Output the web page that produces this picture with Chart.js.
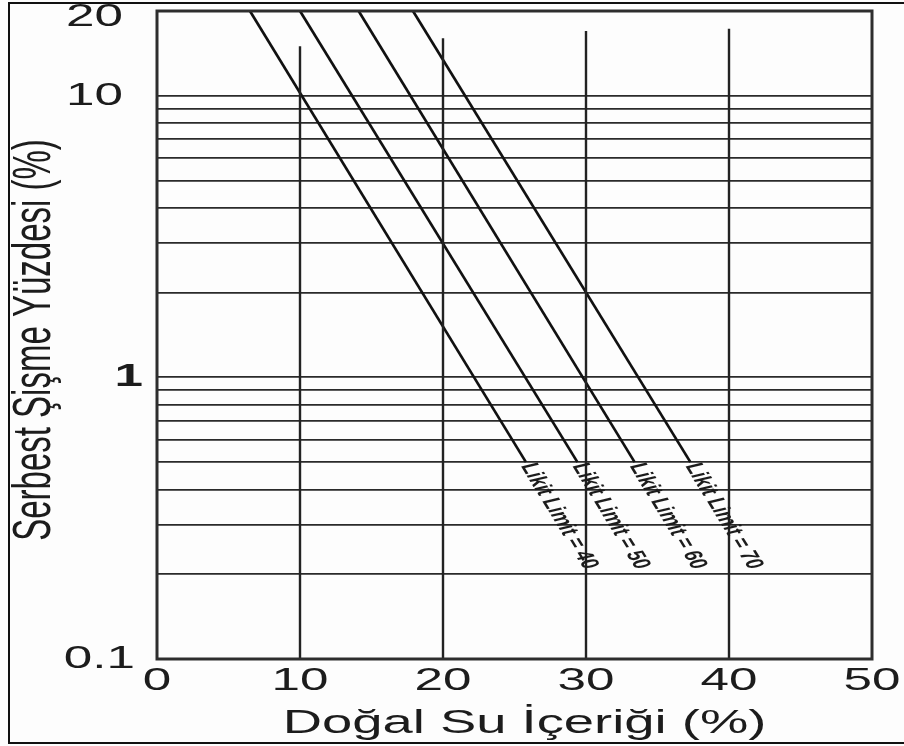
<!DOCTYPE html>
<html>
<head>
<meta charset="utf-8">
<script src="https://cdn.jsdelivr.net/npm/chart.js@4.4.1/dist/chart.umd.min.js"></script>
<style>
  html, body { margin: 0; padding: 0; background: #fdfdfd; }
  #wrap { width: 904px; height: 746px; }
</style>
</head>
<body>
<div id="wrap"><canvas id="swell"></canvas></div>
<script>
// liquid limit lines: free swell (%) against natural water content (%)
var liquidLimits = [40, 50, 60, 70];
var lineStartX = [6.5, 10.0, 14.1, 17.9];
var lineStartY = [20, 20, 20, 20];
var lineEndX = [25.8, 29.4, 33.4, 37.3];
var lineEndY = [0.5, 0.5, 0.5, 0.5];

// vertical rules at the decade marks of water content, stopping short of the top
var ruleX = [10, 20, 30, 40];
var ruleTop = [15, 16, 17, 17.3];

var xTicks = [0, 10, 20, 30, 40, 50];
var yLabels = [0.1, 1, 10, 20];
var yGrid = [0.2, 0.3, 0.4, 0.5, 0.6, 0.7, 0.8, 0.9, 1, 2, 3, 4, 5, 6, 7, 8, 9, 10];

var xTitle = 'Doğal Su İçeriği (%)';
var yTitle = 'Serbest Şişme Yüzdesi (%)';

var FONT = "'Liberation Sans', Arial, sans-serif";
var INK = '#1c1c1c';
var STRETCH = 1.6; // glyphs are drawn wide, like the scanned sheet

// right edge of each y label, in px from the left of the canvas
var yLabelRight = { '0.1': 135, '1': 143, '10': 123, '20': 123 };

function wideText(ctx, text, x, y, o) {
  ctx.save();
  ctx.translate(x, y);
  ctx.scale(STRETCH, 1);
  if (o.angle) ctx.rotate(o.angle);
  ctx.font = o.font;
  ctx.fillStyle = INK;
  ctx.textAlign = o.align || 'center';
  ctx.textBaseline = o.baseline || 'middle';
  ctx.fillText(text, o.dx || 0, 0);
  ctx.restore();
}

var datasets = [];
ruleX.forEach(function (x, i) {
  datasets.push({
    data: [{ x: x, y: 0.1 }, { x: x, y: ruleTop[i] }],
    borderColor: '#222', borderWidth: 2.4, pointRadius: 0, showLine: true
  });
});
liquidLimits.forEach(function (ll, i) {
  datasets.push({
    label: 'Likit Limit = ' + ll,
    data: [{ x: lineStartX[i], y: lineStartY[i] }, { x: lineEndX[i], y: lineEndY[i] }],
    borderColor: '#111', borderWidth: 2.7, pointRadius: 0, showLine: true
  });
});

var sheet = {
  id: 'sheet',
  beforeDraw: function (chart) {
    var ctx = chart.ctx;
    ctx.save();
    ctx.fillStyle = '#fdfdfd';
    ctx.fillRect(0, 0, chart.width, chart.height);
    ctx.restore();
  },
  afterDraw: function (chart) {
    var ctx = chart.ctx, a = chart.chartArea;
    var xs = chart.scales.x, ys = chart.scales.y;
    ctx.save();
    // outer frame of the figure
    ctx.strokeStyle = '#111';
    ctx.lineWidth = 2;
    ctx.strokeRect(9, 3, chart.width + 10, 740);
    // plot frame
    ctx.strokeStyle = '#2e2e2e';
    ctx.lineWidth = 3;
    ctx.strokeRect(a.left, a.top, a.right - a.left, a.bottom - a.top);
    ctx.restore();

    // axis numbers
    xTicks.forEach(function (v) {
      wideText(ctx, String(v), xs.getPixelForValue(v), a.bottom + 22, { font: '32px ' + FONT });
    });
    yLabels.forEach(function (v) {
      var py = Math.max(ys.getPixelForValue(v), 17);
      wideText(ctx, String(v), yLabelRight[String(v)], py, {
        font: (v === 1 ? 'bold ' : '') + '32px ' + FONT, align: 'right'
      });
    });

    // axis titles
    wideText(ctx, xTitle, (a.left + a.right) / 2 + 10, 733, {
      font: '34px ' + FONT, baseline: 'alphabetic'
    });
    wideText(ctx, yTitle, 50, 340, {
      font: '33px ' + FONT, baseline: 'alphabetic', angle: -Math.PI / 2
    });

    // labels continuing each liquid limit line
    liquidLimits.forEach(function (ll, i) {
      var x0 = xs.getPixelForValue(lineStartX[i]), y0 = ys.getPixelForValue(lineStartY[i]);
      var x1 = xs.getPixelForValue(lineEndX[i]), y1 = ys.getPixelForValue(lineEndY[i]);
      var ang = Math.atan2(y1 - y0, (x1 - x0) / STRETCH);
      wideText(ctx, 'Likit Limit = ' + ll, x1, y1, {
        font: 'bold 16px ' + FONT, align: 'left', angle: ang, dx: 2
      });
    });
  }
};

new Chart(document.getElementById('swell').getContext('2d'), {
  type: 'scatter',
  data: { datasets: datasets },
  plugins: [sheet],
  options: {
    responsive: true,
    maintainAspectRatio: false,
    animation: false,
    layout: { padding: { left: 157, top: 11, right: 32, bottom: 87 } },
    plugins: { legend: { display: false }, tooltip: { enabled: false } },
    scales: {
      x: {
        type: 'linear', min: 0, max: 50,
        ticks: { display: false },
        grid: { display: false, drawTicks: false },
        border: { display: false }
      },
      y: {
        type: 'logarithmic', min: 0.1, max: 20,
        afterBuildTicks: function (scale) {
          scale.ticks = yGrid.map(function (v) { return { value: v }; });
        },
        ticks: { display: false },
        grid: { color: '#2a2a2a', lineWidth: 1.8, drawTicks: false },
        border: { display: false }
      }
    }
  }
});
</script>
</body>
</html>
